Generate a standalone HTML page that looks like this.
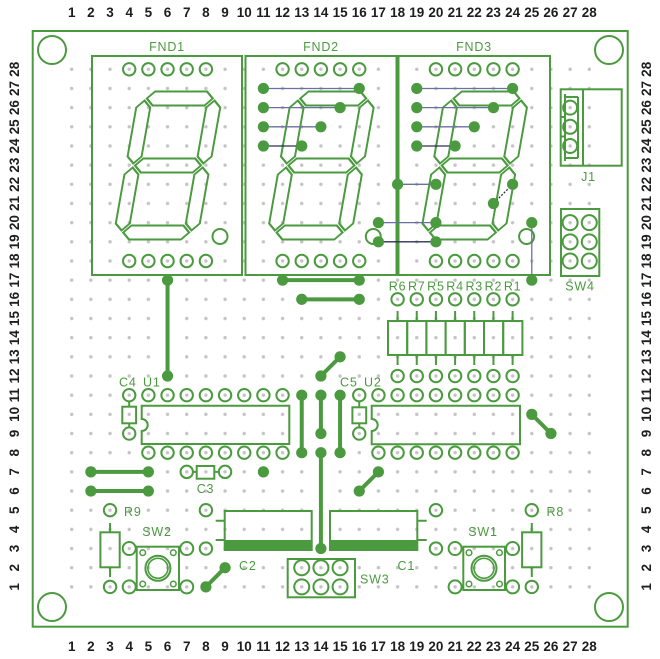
<!DOCTYPE html>
<html><head><meta charset="utf-8"><style>
html,body{margin:0;padding:0;background:#fff;}
svg{display:block;}
.n{font-family:"Liberation Sans",Arial,sans-serif;font-weight:bold;font-size:13.5px;fill:#1e1e1e;text-anchor:middle;}
.l{font-family:"Liberation Sans",Arial,sans-serif;font-size:12.5px;fill:#4b9a3f;letter-spacing:0.8px;}
</style></head><body>
<svg width="660" height="659" viewBox="0 0 660 659" xmlns="http://www.w3.org/2000/svg">
<defs>
<pattern id="gd" patternUnits="userSpaceOnUse" x="62.115" y="59.715" width="19.17" height="19.17">
<circle cx="9.585" cy="9.585" r="1.7" fill="#c4c4c4"/>
</pattern>
<g id="dig" fill="none" stroke="#4b9a3f" stroke-width="2" stroke-linejoin="miter">
<polygon points="-33,-67 -26,-74 26,-74 33,-67 26,-60 -26,-60"/>
<polygon points="-33,0 -26,-7 26,-7 33,0 26,7 -26,7"/>
<polygon points="-33,67 -26,60 26,60 33,67 26,74 -26,74"/>
<polygon points="-35,-65 -28,-58 -28,-9 -35,-2 -42,-9 -42,-58"/>
<polygon points="35,-65 42,-58 42,-9 35,-2 28,-9 28,-58"/>
<polygon points="-35,2 -28,9 -28,58 -35,65 -42,58 -42,9"/>
<polygon points="35,2 42,9 42,58 35,65 28,58 28,9"/>
</g>
</defs>
<rect width="660" height="659" fill="#fff"/>
<!-- grid dots -->
<rect x="62.115" y="59.715" width="536.76" height="536.76" fill="url(#gd)"/>

<!-- board -->
<g fill="none" stroke="#4b9a3f" stroke-width="2">
<rect x="32.7" y="31" width="595" height="595.7"/>
<circle cx="52" cy="50" r="14"/>
<circle cx="609" cy="50" r="14"/>
<circle cx="52" cy="607" r="14"/>
<circle cx="609" cy="607" r="14"/>
<!-- FND boxes -->
<rect x="92" y="56" width="150" height="219"/>
<rect x="245.5" y="56" width="151" height="219"/>
<rect x="398.5" y="56" width="151.5" height="219"/>
</g>
<use href="#dig" transform="translate(168,165.5) skewX(-10)"/>
<use href="#dig" transform="translate(321.4,165.5) skewX(-10)"/>
<use href="#dig" transform="translate(474.7,165.5) skewX(-10)"/>

<!-- component outlines -->
<g fill="none" stroke="#4b9a3f" stroke-width="2">
<!-- DP circles -->
<circle cx="220" cy="236.5" r="7.5"/>
<circle cx="373.3" cy="236.5" r="7.5"/>
<circle cx="526.6" cy="236.5" r="7.5"/>
<!-- J1 -->
<rect x="560.7" y="89.3" width="61" height="76.4"/>
<line x1="583" y1="89.3" x2="583" y2="165.7"/>
<path d="M565,94 V161 M578,97 V158 M565,97 H578 M565,158 H578 M560.7,117 H565 M560.7,136.5 H565"/>
<!-- SW4 -->
<rect x="561" y="209" width="38.3" height="67"/>
<!-- resistor array -->
<rect x="388" y="321" width="19.2" height="34"/>
<rect x="407.2" y="321" width="19.2" height="34"/>
<rect x="426.4" y="321" width="19.2" height="34"/>
<rect x="445.6" y="321" width="19.2" height="34"/>
<rect x="464.8" y="321" width="19.2" height="34"/>
<rect x="484" y="321" width="19.2" height="34"/>
<rect x="503.2" y="321" width="19.2" height="34"/>
<path d="M397.59,311 V321 M416.76,311 V321 M435.93,311 V321 M455.1,311 V321 M474.27,311 V321 M493.44,311 V321 M512.61,311 V321 M397.59,355 V365 M416.76,355 V365 M435.93,355 V365 M455.1,355 V365 M474.27,355 V365 M493.44,355 V365 M512.61,355 V365"/>
<!-- U1 -->
<path d="M141.7,405.7 H289.3 V444 H141.7 V431 A6,6 0 0 0 141.7,419 Z"/>
<!-- C4 -->
<rect x="122.3" y="406.7" width="13.8" height="16.6"/>
<path d="M129.21,401.5 V406.7 M129.21,423.3 V427.5"/>
<!-- U2 -->
<path d="M371.7,405.7 H520 V444.3 H371.7 V431 A6,6 0 0 0 371.7,419 Z"/>
<!-- C5 -->
<rect x="352.4" y="407.3" width="13.8" height="16"/>
<path d="M359.25,401.5 V407.3 M359.25,423.3 V427.5"/>
<!-- C3 -->
<rect x="196.7" y="466" width="17.6" height="12.7"/>
<path d="M193,471.87 H196.7 M214.3,471.87 H218.8"/>
<!-- R9 -->
<rect x="100.4" y="532.3" width="19.3" height="35"/>
<path d="M110.04,523 V532.3 M110.04,567.3 V577"/>
<!-- R8 -->
<rect x="522.1" y="532.3" width="19.3" height="35"/>
<path d="M531.78,523 V532.3 M531.78,567.3 V577"/>
<!-- C2 -->
<rect x="224.7" y="511" width="87" height="39"/>
<path d="M215.7,520.7 H224.7 M215.7,540 H224.7"/>
<!-- C1 -->
<rect x="330" y="511" width="87.3" height="39"/>
<path d="M417.3,520.7 H426.7 M417.3,540 H426.7"/>
<!-- SW2 -->
<rect x="136.7" y="546.7" width="42.3" height="43.3"/>
<circle cx="157.9" cy="568.3" r="12.5"/>
<circle cx="157.9" cy="568.3" r="10" stroke-width="1.6"/>
<!-- SW1 -->
<rect x="463.3" y="546.7" width="41.7" height="43.3"/>
<circle cx="484" cy="568.3" r="12.5"/>
<circle cx="484" cy="568.3" r="10" stroke-width="1.6"/>
<!-- SW3 -->
<rect x="287.7" y="559" width="67.3" height="38.3"/>
</g>
<g fill="none" stroke="#4b9a3f" stroke-width="1.5">
<circle cx="142.7" cy="552.7" r="2.8"/><circle cx="173.3" cy="552.7" r="2.8"/>
<circle cx="142.7" cy="584" r="2.8"/><circle cx="173.3" cy="584" r="2.8"/>
<circle cx="469" cy="552.7" r="2.8"/><circle cx="499.5" cy="552.7" r="2.8"/>
<circle cx="469" cy="584" r="2.8"/><circle cx="499.5" cy="584" r="2.8"/>
</g>
<!-- capacitor bands -->
<rect x="224.7" y="540" width="87" height="10" fill="#4b9a3f"/>
<rect x="330" y="540" width="87.3" height="10" fill="#4b9a3f"/>

<!-- hollow pads -->
<g fill="none" stroke="#4b9a3f" stroke-width="2">
<!-- FND pads -->
<circle cx="129.21" cy="69.3" r="6.2"/><circle cx="148.38" cy="69.3" r="6.2"/><circle cx="167.55" cy="69.3" r="6.2"/><circle cx="186.72" cy="69.3" r="6.2"/><circle cx="205.89" cy="69.3" r="6.2"/>
<circle cx="129.21" cy="261" r="6.2"/><circle cx="148.38" cy="261" r="6.2"/><circle cx="167.55" cy="261" r="6.2"/><circle cx="186.72" cy="261" r="6.2"/><circle cx="205.89" cy="261" r="6.2"/>
<circle cx="282.57" cy="69.3" r="6.2"/><circle cx="301.74" cy="69.3" r="6.2"/><circle cx="320.91" cy="69.3" r="6.2"/><circle cx="340.08" cy="69.3" r="6.2"/><circle cx="359.25" cy="69.3" r="6.2"/>
<circle cx="282.57" cy="261" r="6.2"/><circle cx="301.74" cy="261" r="6.2"/><circle cx="320.91" cy="261" r="6.2"/><circle cx="340.08" cy="261" r="6.2"/><circle cx="359.25" cy="261" r="6.2"/>
<circle cx="435.93" cy="69.3" r="6.2"/><circle cx="455.1" cy="69.3" r="6.2"/><circle cx="474.27" cy="69.3" r="6.2"/><circle cx="493.44" cy="69.3" r="6.2"/><circle cx="512.61" cy="69.3" r="6.2"/>
<circle cx="435.93" cy="261" r="6.2"/><circle cx="455.1" cy="261" r="6.2"/><circle cx="474.27" cy="261" r="6.2"/><circle cx="493.44" cy="261" r="6.2"/><circle cx="512.61" cy="261" r="6.2"/>
<!-- J1 -->
<circle cx="570.12" cy="107.64" r="7"/><circle cx="570.12" cy="126.81" r="7"/><circle cx="570.12" cy="145.98" r="7"/>
<!-- SW4 -->
<circle cx="570.12" cy="222.66" r="7.5"/><circle cx="589.29" cy="222.66" r="7.5"/>
<circle cx="570.12" cy="241.83" r="7.5"/><circle cx="589.29" cy="241.83" r="7.5"/>
<circle cx="570.12" cy="261" r="7.5"/><circle cx="589.29" cy="261" r="7.5"/>
<!-- R array pads -->
<circle cx="397.59" cy="299.34" r="6.2"/><circle cx="416.76" cy="299.34" r="6.2"/><circle cx="435.93" cy="299.34" r="6.2"/><circle cx="455.1" cy="299.34" r="6.2"/><circle cx="474.27" cy="299.34" r="6.2"/><circle cx="493.44" cy="299.34" r="6.2"/><circle cx="512.61" cy="299.34" r="6.2"/>
<circle cx="397.59" cy="376.02" r="6.2"/><circle cx="416.76" cy="376.02" r="6.2"/><circle cx="435.93" cy="376.02" r="6.2"/><circle cx="455.1" cy="376.02" r="6.2"/><circle cx="474.27" cy="376.02" r="6.2"/><circle cx="493.44" cy="376.02" r="6.2"/><circle cx="512.61" cy="376.02" r="6.2"/>
<!-- U1 -->
<circle cx="148.38" cy="395.19" r="6.2"/><circle cx="167.55" cy="395.19" r="6.2"/><circle cx="186.72" cy="395.19" r="6.2"/><circle cx="205.89" cy="395.19" r="6.2"/><circle cx="225.06" cy="395.19" r="6.2"/><circle cx="244.23" cy="395.19" r="6.2"/><circle cx="263.4" cy="395.19" r="6.2"/><circle cx="282.57" cy="395.19" r="6.2"/>
<circle cx="148.38" cy="452.7" r="6.2"/><circle cx="167.55" cy="452.7" r="6.2"/><circle cx="186.72" cy="452.7" r="6.2"/><circle cx="205.89" cy="452.7" r="6.2"/><circle cx="225.06" cy="452.7" r="6.2"/><circle cx="244.23" cy="452.7" r="6.2"/><circle cx="263.4" cy="452.7" r="6.2"/><circle cx="282.57" cy="452.7" r="6.2"/>
<!-- C4 -->
<circle cx="129.21" cy="395.19" r="6.2"/><circle cx="129.21" cy="433.53" r="6.2"/>
<!-- U2 -->
<circle cx="378.42" cy="395.19" r="6.2"/><circle cx="397.59" cy="395.19" r="6.2"/><circle cx="416.76" cy="395.19" r="6.2"/><circle cx="435.93" cy="395.19" r="6.2"/><circle cx="455.1" cy="395.19" r="6.2"/><circle cx="474.27" cy="395.19" r="6.2"/><circle cx="493.44" cy="395.19" r="6.2"/><circle cx="512.61" cy="395.19" r="6.2"/>
<circle cx="378.42" cy="452.7" r="6.2"/><circle cx="397.59" cy="452.7" r="6.2"/><circle cx="416.76" cy="452.7" r="6.2"/><circle cx="435.93" cy="452.7" r="6.2"/><circle cx="455.1" cy="452.7" r="6.2"/><circle cx="474.27" cy="452.7" r="6.2"/><circle cx="493.44" cy="452.7" r="6.2"/><circle cx="512.61" cy="452.7" r="6.2"/>
<!-- C5 -->
<circle cx="359.25" cy="395.19" r="6.2"/><circle cx="359.25" cy="433.53" r="6.2"/>
<!-- C3 -->
<circle cx="186.72" cy="471.87" r="6.2"/><circle cx="225.06" cy="471.87" r="6.2"/>
<!-- R9 -->
<circle cx="110.04" cy="510.21" r="6.2"/><circle cx="110.04" cy="586.89" r="6.2"/>
<!-- C2 -->
<circle cx="205.89" cy="510.21" r="6.2"/><circle cx="205.89" cy="548.55" r="6.2"/>
<!-- C1 -->
<circle cx="435.93" cy="510.21" r="6.2"/><circle cx="435.93" cy="548.55" r="6.2"/>
<!-- SW2 -->
<circle cx="129.21" cy="548.55" r="6.5"/><circle cx="186.72" cy="548.55" r="6.5"/><circle cx="129.21" cy="586.89" r="6.5"/><circle cx="186.72" cy="586.89" r="6.5"/>
<!-- SW1 -->
<circle cx="455.1" cy="548.55" r="6.5"/><circle cx="512.61" cy="548.55" r="6.5"/><circle cx="455.1" cy="586.89" r="6.5"/><circle cx="512.61" cy="586.89" r="6.5"/>
<!-- R8 -->
<circle cx="531.78" cy="510.21" r="6.2"/><circle cx="531.78" cy="586.89" r="6.2"/>
<!-- SW3 -->
<circle cx="301.74" cy="567.72" r="7.5"/><circle cx="320.91" cy="567.72" r="7.5"/><circle cx="340.08" cy="567.72" r="7.5"/>
<circle cx="301.74" cy="586.89" r="7.5"/><circle cx="320.91" cy="586.89" r="7.5"/><circle cx="340.08" cy="586.89" r="7.5"/>
</g>

<!-- thin wires -->
<g stroke-width="1.3" fill="none">
<g stroke="#6a719c">
<line x1="263.4" y1="88.47" x2="359.25" y2="88.47"/>
<line x1="263.4" y1="107.64" x2="340.08" y2="107.64"/>
<line x1="263.4" y1="126.81" x2="320.91" y2="126.81"/>
<line x1="416.76" y1="88.47" x2="512.61" y2="88.47"/>
<line x1="416.76" y1="107.64" x2="493.44" y2="107.64"/>
<line x1="416.76" y1="126.81" x2="474.27" y2="126.81"/>
<line x1="397.59" y1="184.32" x2="435.93" y2="184.32"/>
<line x1="378.42" y1="222.66" x2="435.93" y2="222.66"/>
<line x1="531.78" y1="222.66" x2="531.78" y2="280.17"/>
</g>
<g stroke="#2d3350">
<line x1="263.4" y1="145.98" x2="301.74" y2="145.98"/>
<line x1="416.76" y1="145.98" x2="455.1" y2="145.98"/>
<line x1="378.42" y1="241.83" x2="435.93" y2="241.83"/>
<line x1="512.61" y1="184.32" x2="493.44" y2="203.49" stroke-dasharray="2 1.5"/>
</g>
</g>

<!-- thick traces -->
<g stroke="#4b9a3f" stroke-width="4" stroke-linecap="round">
<line x1="167.55" y1="280.17" x2="167.55" y2="376.02"/>
<line x1="282.57" y1="280.17" x2="359.25" y2="280.17"/>
<line x1="301.74" y1="299.34" x2="359.25" y2="299.34"/>
<line x1="320.91" y1="376.02" x2="340.08" y2="356.85"/>
<line x1="301.74" y1="395.19" x2="301.74" y2="452.7"/>
<line x1="320.91" y1="395.19" x2="320.91" y2="433.53"/>
<line x1="320.91" y1="452.7" x2="320.91" y2="548.55"/>
<line x1="340.08" y1="395.19" x2="340.08" y2="452.7"/>
<line x1="90.87" y1="471.87" x2="148.38" y2="471.87"/>
<line x1="90.87" y1="491.04" x2="148.38" y2="491.04"/>
<line x1="378.42" y1="471.87" x2="359.25" y2="491.04"/>
<line x1="531.78" y1="414.36" x2="550.95" y2="433.53"/>
<line x1="205.89" y1="586.89" x2="225.06" y2="567.72"/>
</g>

<!-- filled dots -->
<g fill="#4b9a3f">
<circle cx="263.4" cy="88.47" r="5.6"/><circle cx="359.25" cy="88.47" r="5.6"/>
<circle cx="263.4" cy="107.64" r="5.6"/><circle cx="340.08" cy="107.64" r="5.6"/>
<circle cx="263.4" cy="126.81" r="5.6"/><circle cx="320.91" cy="126.81" r="5.6"/>
<circle cx="263.4" cy="145.98" r="5.6"/><circle cx="301.74" cy="145.98" r="5.6"/>
<circle cx="416.76" cy="88.47" r="5.6"/><circle cx="512.61" cy="88.47" r="5.6"/>
<circle cx="416.76" cy="107.64" r="5.6"/><circle cx="493.44" cy="107.64" r="5.6"/>
<circle cx="416.76" cy="126.81" r="5.6"/><circle cx="474.27" cy="126.81" r="5.6"/>
<circle cx="416.76" cy="145.98" r="5.6"/><circle cx="455.1" cy="145.98" r="5.6"/>
<circle cx="397.59" cy="184.32" r="5.6"/><circle cx="435.93" cy="184.32" r="5.6"/>
<circle cx="512.61" cy="184.32" r="5.6"/><circle cx="493.44" cy="203.49" r="5.6"/>
<circle cx="378.42" cy="222.66" r="5.6"/><circle cx="435.93" cy="222.66" r="5.6"/>
<circle cx="378.42" cy="241.83" r="5.6"/><circle cx="435.93" cy="241.83" r="5.6"/>
<circle cx="531.78" cy="222.66" r="5.6"/><circle cx="531.78" cy="280.17" r="5.6"/>
<circle cx="167.55" cy="280.17" r="5.6"/><circle cx="167.55" cy="376.02" r="5.6"/>
<circle cx="282.57" cy="280.17" r="5.6"/><circle cx="359.25" cy="280.17" r="5.6"/>
<circle cx="301.74" cy="299.34" r="5.6"/><circle cx="359.25" cy="299.34" r="5.6"/>
<circle cx="320.91" cy="376.02" r="5.6"/><circle cx="340.08" cy="356.85" r="5.6"/>
<circle cx="301.74" cy="395.19" r="5.6"/><circle cx="301.74" cy="452.7" r="5.6"/>
<circle cx="320.91" cy="395.19" r="5.6"/><circle cx="320.91" cy="433.53" r="5.6"/>
<circle cx="320.91" cy="452.7" r="5.6"/><circle cx="320.91" cy="548.55" r="5.6"/>
<circle cx="340.08" cy="395.19" r="5.6"/><circle cx="340.08" cy="452.7" r="5.6"/>
<circle cx="90.87" cy="471.87" r="5.6"/><circle cx="148.38" cy="471.87" r="5.6"/>
<circle cx="90.87" cy="491.04" r="5.6"/><circle cx="148.38" cy="491.04" r="5.6"/>
<circle cx="263.4" cy="471.87" r="5.6"/>
<circle cx="378.42" cy="471.87" r="5.6"/><circle cx="359.25" cy="491.04" r="5.6"/>
<circle cx="531.78" cy="414.36" r="5.6"/><circle cx="550.95" cy="433.53" r="5.6"/>
<circle cx="205.89" cy="586.89" r="5.6"/><circle cx="225.06" cy="567.72" r="5.6"/>
</g>

<!-- component labels -->
<text class="l" x="167" y="51" text-anchor="middle">FND1</text>
<text class="l" x="321" y="51" text-anchor="middle">FND2</text>
<text class="l" x="474" y="51" text-anchor="middle">FND3</text>
<text class="l" x="588.5" y="181" text-anchor="middle">J1</text>
<text class="l" x="580" y="290.5" text-anchor="middle">SW4</text>
<text class="l" x="397.59" y="290.5" text-anchor="middle">R6</text>
<text class="l" x="416.76" y="290.5" text-anchor="middle">R7</text>
<text class="l" x="435.93" y="290.5" text-anchor="middle">R5</text>
<text class="l" x="455.1" y="290.5" text-anchor="middle">R4</text>
<text class="l" x="474.27" y="290.5" text-anchor="middle">R3</text>
<text class="l" x="493.44" y="290.5" text-anchor="middle">R2</text>
<text class="l" x="512.61" y="290.5" text-anchor="middle">R1</text>
<text class="l" x="119" y="386.7">C4</text>
<text class="l" x="143" y="386.7">U1</text>
<text class="l" x="340" y="386.7">C5</text>
<text class="l" x="364" y="386.7">U2</text>
<text class="l" x="205.5" y="493" text-anchor="middle">C3</text>
<text class="l" x="124" y="516">R9</text>
<text class="l" x="157" y="536" text-anchor="middle">SW2</text>
<text class="l" x="239" y="570">C2</text>
<text class="l" x="397.5" y="570">C1</text>
<text class="l" x="360" y="583.5">SW3</text>
<text class="l" x="483" y="536" text-anchor="middle">SW1</text>
<text class="l" x="546.5" y="516">R8</text>

<!-- top numbers -->
<g class="n">
<text x="71.7" y="17">1</text><text x="90.87" y="17">2</text><text x="110.04" y="17">3</text><text x="129.21" y="17">4</text><text x="148.38" y="17">5</text><text x="167.55" y="17">6</text><text x="186.72" y="17">7</text><text x="205.89" y="17">8</text><text x="225.06" y="17">9</text><text x="244.23" y="17">10</text><text x="263.4" y="17">11</text><text x="282.57" y="17">12</text><text x="301.74" y="17">13</text><text x="320.91" y="17">14</text><text x="340.08" y="17">15</text><text x="359.25" y="17">16</text><text x="378.42" y="17">17</text><text x="397.59" y="17">18</text><text x="416.76" y="17">19</text><text x="435.93" y="17">20</text><text x="455.1" y="17">21</text><text x="474.27" y="17">22</text><text x="493.44" y="17">23</text><text x="512.61" y="17">24</text><text x="531.78" y="17">25</text><text x="550.95" y="17">26</text><text x="570.12" y="17">27</text><text x="589.29" y="17">28</text>
</g>
<!-- bottom numbers -->
<g class="n">
<text x="71.7" y="651">1</text><text x="90.87" y="651">2</text><text x="110.04" y="651">3</text><text x="129.21" y="651">4</text><text x="148.38" y="651">5</text><text x="167.55" y="651">6</text><text x="186.72" y="651">7</text><text x="205.89" y="651">8</text><text x="225.06" y="651">9</text><text x="244.23" y="651">10</text><text x="263.4" y="651">11</text><text x="282.57" y="651">12</text><text x="301.74" y="651">13</text><text x="320.91" y="651">14</text><text x="340.08" y="651">15</text><text x="359.25" y="651">16</text><text x="378.42" y="651">17</text><text x="397.59" y="651">18</text><text x="416.76" y="651">19</text><text x="435.93" y="651">20</text><text x="455.1" y="651">21</text><text x="474.27" y="651">22</text><text x="493.44" y="651">23</text><text x="512.61" y="651">24</text><text x="531.78" y="651">25</text><text x="550.95" y="651">26</text><text x="570.12" y="651">27</text><text x="589.29" y="651">28</text>
</g>
<!-- left numbers (rotated) -->
<g class="n">
<text transform="translate(19,69.3) rotate(-90)">28</text>
<text transform="translate(19,88.47) rotate(-90)">27</text>
<text transform="translate(19,107.64) rotate(-90)">26</text>
<text transform="translate(19,126.81) rotate(-90)">25</text>
<text transform="translate(19,145.98) rotate(-90)">24</text>
<text transform="translate(19,165.15) rotate(-90)">23</text>
<text transform="translate(19,184.32) rotate(-90)">22</text>
<text transform="translate(19,203.49) rotate(-90)">21</text>
<text transform="translate(19,222.66) rotate(-90)">20</text>
<text transform="translate(19,241.83) rotate(-90)">19</text>
<text transform="translate(19,261) rotate(-90)">18</text>
<text transform="translate(19,280.17) rotate(-90)">17</text>
<text transform="translate(19,299.34) rotate(-90)">16</text>
<text transform="translate(19,318.51) rotate(-90)">15</text>
<text transform="translate(19,337.68) rotate(-90)">14</text>
<text transform="translate(19,356.85) rotate(-90)">13</text>
<text transform="translate(19,376.02) rotate(-90)">12</text>
<text transform="translate(19,395.19) rotate(-90)">11</text>
<text transform="translate(19,414.36) rotate(-90)">10</text>
<text transform="translate(19,433.53) rotate(-90)">9</text>
<text transform="translate(19,452.7) rotate(-90)">8</text>
<text transform="translate(19,471.87) rotate(-90)">7</text>
<text transform="translate(19,491.04) rotate(-90)">6</text>
<text transform="translate(19,510.21) rotate(-90)">5</text>
<text transform="translate(19,529.38) rotate(-90)">4</text>
<text transform="translate(19,548.55) rotate(-90)">3</text>
<text transform="translate(19,567.72) rotate(-90)">2</text>
<text transform="translate(19,586.89) rotate(-90)">1</text>
</g>
<!-- right numbers (rotated) -->
<g class="n">
<text transform="translate(651,69.3) rotate(-90)">28</text>
<text transform="translate(651,88.47) rotate(-90)">27</text>
<text transform="translate(651,107.64) rotate(-90)">26</text>
<text transform="translate(651,126.81) rotate(-90)">25</text>
<text transform="translate(651,145.98) rotate(-90)">24</text>
<text transform="translate(651,165.15) rotate(-90)">23</text>
<text transform="translate(651,184.32) rotate(-90)">22</text>
<text transform="translate(651,203.49) rotate(-90)">21</text>
<text transform="translate(651,222.66) rotate(-90)">20</text>
<text transform="translate(651,241.83) rotate(-90)">19</text>
<text transform="translate(651,261) rotate(-90)">18</text>
<text transform="translate(651,280.17) rotate(-90)">17</text>
<text transform="translate(651,299.34) rotate(-90)">16</text>
<text transform="translate(651,318.51) rotate(-90)">15</text>
<text transform="translate(651,337.68) rotate(-90)">14</text>
<text transform="translate(651,356.85) rotate(-90)">13</text>
<text transform="translate(651,376.02) rotate(-90)">12</text>
<text transform="translate(651,395.19) rotate(-90)">11</text>
<text transform="translate(651,414.36) rotate(-90)">10</text>
<text transform="translate(651,433.53) rotate(-90)">9</text>
<text transform="translate(651,452.7) rotate(-90)">8</text>
<text transform="translate(651,471.87) rotate(-90)">7</text>
<text transform="translate(651,491.04) rotate(-90)">6</text>
<text transform="translate(651,510.21) rotate(-90)">5</text>
<text transform="translate(651,529.38) rotate(-90)">4</text>
<text transform="translate(651,548.55) rotate(-90)">3</text>
<text transform="translate(651,567.72) rotate(-90)">2</text>
<text transform="translate(651,586.89) rotate(-90)">1</text>
</g>
</svg>
</body></html>
